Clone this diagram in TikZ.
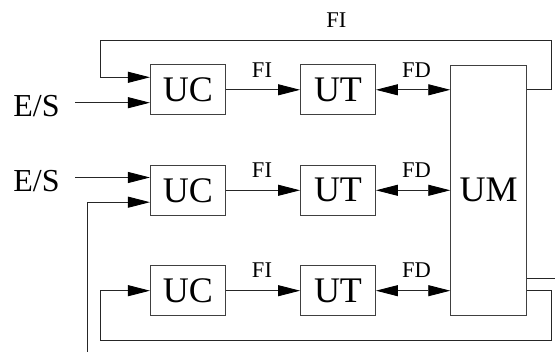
\documentclass[tikz,border=0pt]{standalone}
\usepackage{fontspec}
\setmainfont{Liberation Serif}
\usetikzlibrary{arrows.meta}
\begin{document}
\begin{tikzpicture}[x=1pt,y=-1pt,
  box/.style={draw=black!75,line width=0.9pt,minimum width=75pt,minimum height=50pt,inner sep=0pt,font=\fontsize{36}{36}\selectfont},
  lbl/.style={font=\fontsize{22.5}{22.5}\selectfont,inner sep=0pt},
  eslbl/.style={font=\fontsize{32}{32}\selectfont,inner sep=0pt},
  wire/.style={line width=0.9pt,black!85},
  tip/.style={Triangle[length=22pt,width=11pt,fill=black,color=black]},
  arr/.style={wire,-{Triangle[length=22pt,width=11pt,color=black]}},
  darr/.style={wire,{Triangle[length=22pt,width=11pt,color=black]}-{Triangle[length=22pt,width=11pt,color=black]}}]
\useasboundingbox (0,0) rectangle (555,352);
% boxes
\node[box] (uc1) at (187.9,89.8) {UC};
\node[box] (ut1) at (338,89.8) {UT};
\node[box] (uc2) at (187.9,190.3) {UC};
\node[box] (ut2) at (338,190.3) {UT};
\node[box] (uc3) at (187.9,290.7) {UC};
\node[box] (ut3) at (338,290.7) {UT};
\node[box,minimum width=75.8pt,minimum height=250.5pt,anchor=north] (um) at (488.6,64.7) {};
\node[font=\fontsize{36}{36}\selectfont,inner sep=0pt] (umt) at (488.6,190.3) {UM};
% labels
\node[eslbl] (es1) at (36.5,106.5) {E/S};
\node[eslbl] (es2) at (36.5,181) {E/S};
\node[lbl] (fit) at (336.3,20) {FI};
\node[lbl] (fi1) at (262,70) {FI};
\node[lbl] (fd1) at (416.4,70) {FD};
\node[lbl] (fi2) at (262,170.5) {FI};
\node[lbl] (fd2) at (416.4,170.5) {FD};
\node[lbl] (fi3) at (262,270) {FI};
\node[lbl] (fd3) at (416.4,270) {FD};
% coordinates
\coordinate (s1) at (75.2,102.7);
\coordinate (s2) at (75.2,177.5);
\coordinate (ta) at (551,40);
\coordinate (tb) at (100.2,77.3);
\coordinate (ba) at (551,340);
\coordinate (bb) at (100.2,290.7);
\coordinate (lv) at (87.3,352);
\coordinate (lh) at (87.3,202.2);
\coordinate (rh) at (555,278);
% row arrows
\draw[arr] (uc1.east) -- (ut1.west);
\draw[arr] (uc2.east) -- (ut2.west);
\draw[arr] (uc3.east) -- (ut3.west);
\draw[darr] (ut1.east) -- (um.west |- ut1.east);
\draw[darr] (ut2.east) -- (um.west |- ut2.east);
\draw[darr] (ut3.east) -- (um.west |- ut3.east);
% inputs
\draw[arr] (s1) -- (uc1.west |- s1);
\draw[arr] (s2) -- (uc2.west |- s2);
% top loop
\draw[arr] (um.east |- ut1.east) -| (ta) -| (tb) -- (uc1.west |- tb);
% bottom loop
\draw[arr] (um.east |- ut3.east) -| (ba) -| (bb) -- (uc3.west);
% open lines
\draw[arr] (lv) |- (uc2.west |- lh);
\draw[wire] (um.east |- rh) -- (rh);
\end{tikzpicture}
\end{document}
